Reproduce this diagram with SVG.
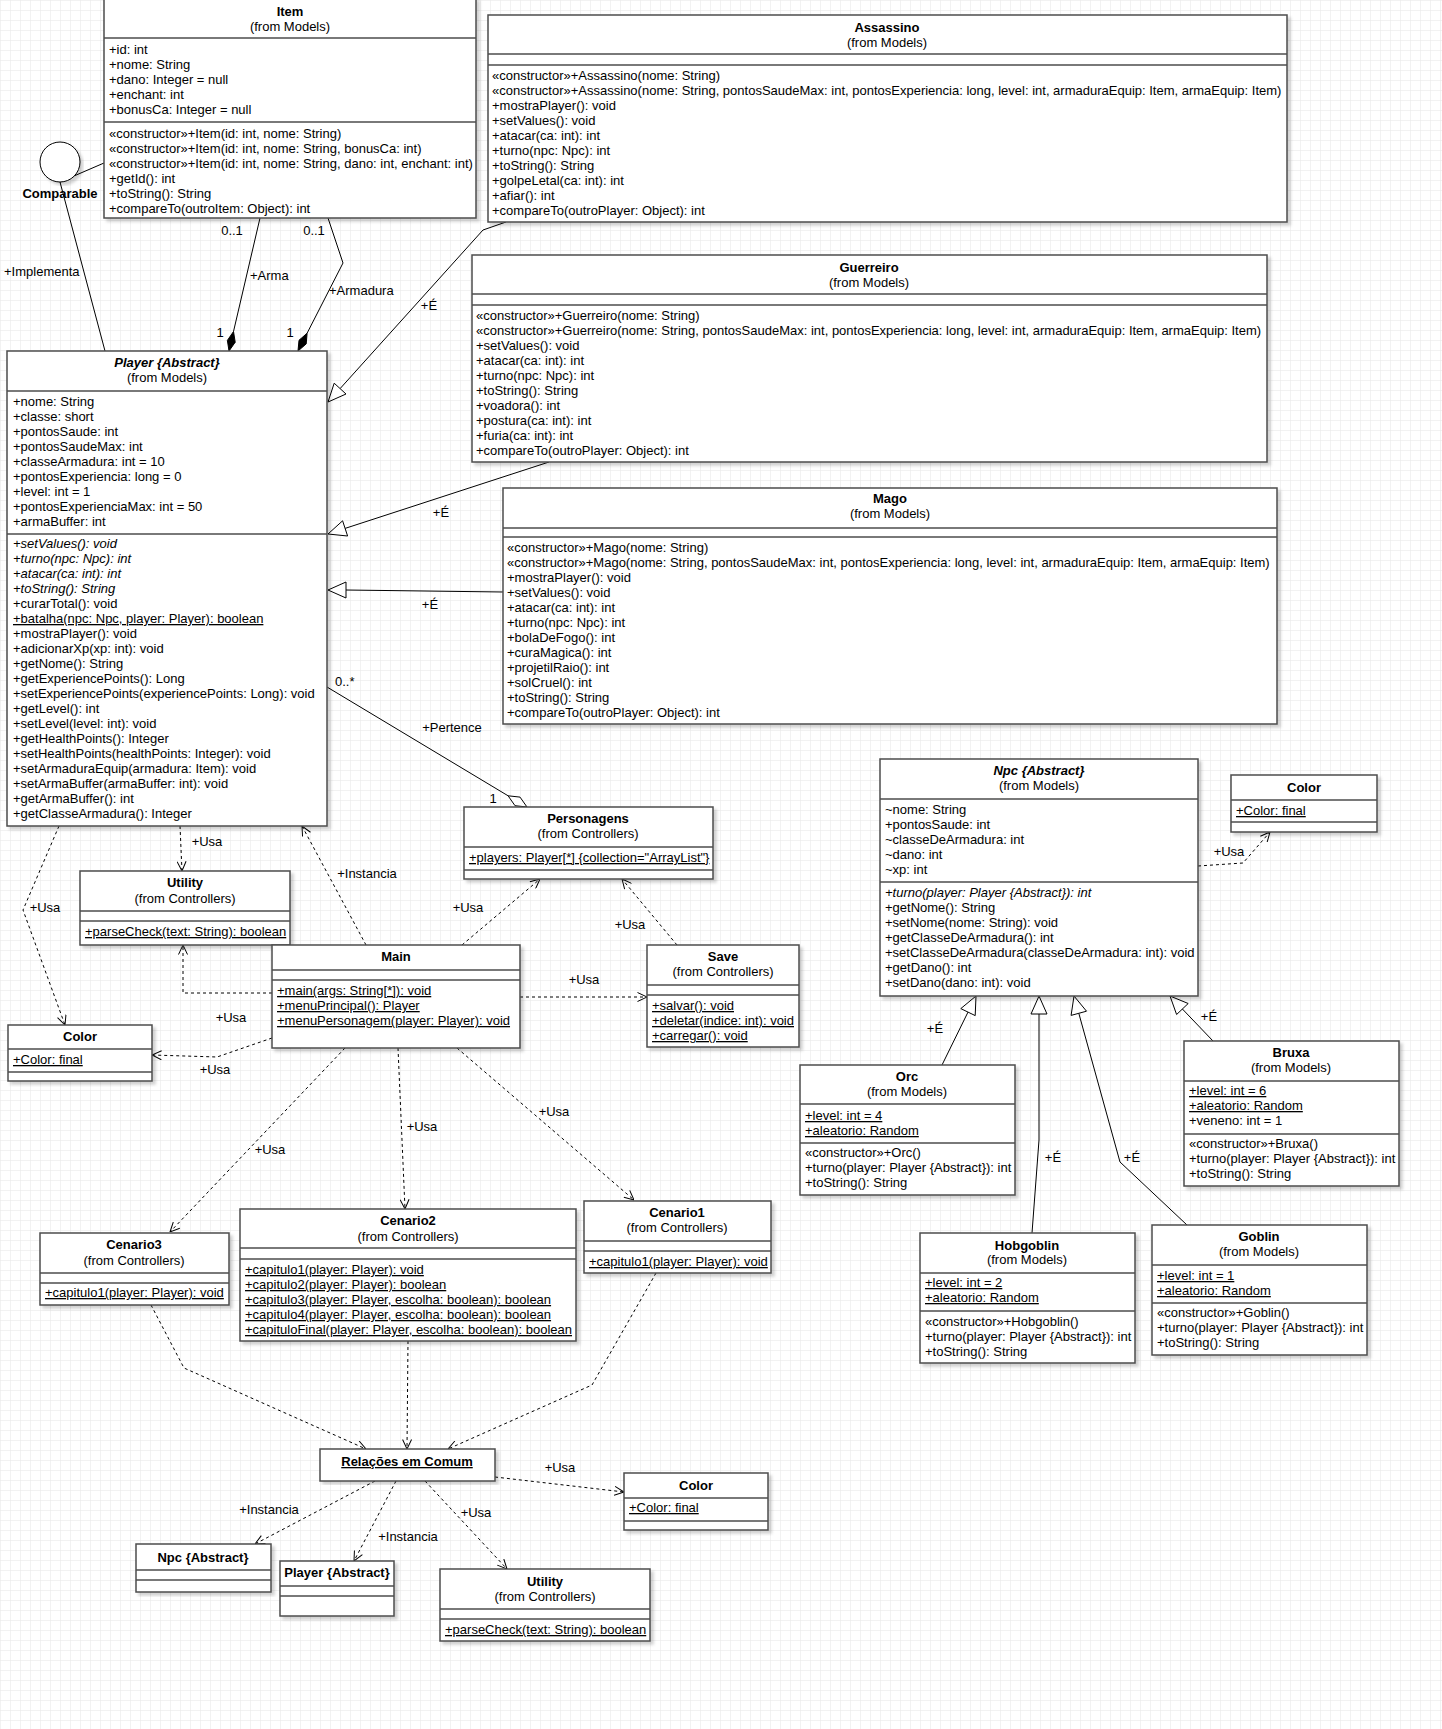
<svg xmlns="http://www.w3.org/2000/svg" width="1442" height="1729" viewBox="0 0 1442 1729">
<defs>
<style>
text{font-family:"Liberation Sans",Arial,sans-serif;font-size:13px;fill:#000}
.t{font-weight:bold;text-anchor:middle}
.c{text-anchor:middle}
.i{font-style:italic}
.bi{font-weight:bold;font-style:italic;text-anchor:middle}
.u{text-decoration:underline}
.b{fill:#fff;stroke:#4d4d4d;stroke-width:1.5}
.s{fill:none;stroke:#4d4d4d;stroke-width:1.5}
.l{fill:none;stroke:#000;stroke-width:1}
.d{fill:none;stroke:#000;stroke-width:1;stroke-dasharray:3 3;marker-end:url(#oa)}
.tri{fill:#fff;stroke:#000;stroke-width:1}
.dia{fill:#000;stroke:#000;stroke-width:1}
.hd{fill:#fff;stroke:#000;stroke-width:1}
</style>
<pattern id="grid" width="10" height="10" patternUnits="userSpaceOnUse"><path d="M10,0 L0,0 0,10" fill="none" stroke="#e6e6e6" stroke-width="1"/></pattern>
<marker id="oa" viewBox="0 0 10 10" refX="10" refY="5" markerWidth="10" markerHeight="10" markerUnits="userSpaceOnUse" orient="auto"><path d="M0.5,0.5 L10,5 L0.5,9.5" fill="none" stroke="#000" stroke-width="1"/></marker>
<filter id="sh" x="-5%" y="-5%" width="115%" height="115%"><feDropShadow dx="3" dy="3" stdDeviation="1.5" flood-color="#000" flood-opacity="0.18"/></filter>
</defs>
<rect width="1442" height="1729" fill="#fff"/>
<rect width="1442" height="1729" fill="url(#grid)"/>

<g id="connectors">
<path class="l" d="M60,182 L104,163"/>
<path class="l" d="M60,182 L105,351"/>
<text x="4" y="276">+Implementa</text>
<path class="l" d="M260,218 L233.5,331.5"/>
<polygon class="dia" points="229,351 235.2,342.2 233.5,331.5 227.4,340.4"/>
<path class="l" d="M328,218 L343,263 L307.1,333.2"/>
<polygon class="dia" points="298,351 306.2,343.9 307.1,333.2 299,340.3"/>
<text class="c" x="232" y="235">0..1</text>
<text class="c" x="314" y="235">0..1</text>
<text x="250" y="280">+Arma</text>
<text x="329" y="295">+Armadura</text>
<text class="c" x="220" y="337">1</text>
<text class="c" x="290" y="337">1</text>
<path class="l" d="M506,222 L483,230 L340.1,388.6"/>
<polygon class="tri" points="328,402 346,394 334.2,383.2"/>
<text class="c" x="429" y="310">+É</text>
<path class="l" d="M549,462 L345.1,528.4"/>
<polygon class="tri" points="328,534 347.6,536 342.6,520.8"/>
<text class="c" x="441" y="517">+É</text>
<path class="l" d="M503,592 L346,590"/>
<polygon class="tri" points="328,590 346,582 346,598"/>
<text class="c" x="430" y="609">+É</text>
<path class="l" d="M327,687 L508.1,795.8"/>
<polygon class="hd" points="508.1,795.8 520,797.1 527,807 515,805.7"/>
<text x="335" y="686">0..*</text>
<text class="c" x="452" y="732">+Pertence</text>
<text class="c" x="493" y="803">1</text>

<path class="d" d="M180,826 L182,871"/>
<text class="c" x="207" y="846">+Usa</text>
<path class="d" d="M59,826 L23,910 L65,1025"/>
<text class="c" x="45" y="912">+Usa</text>
<path class="d" d="M366,945 L302,826"/>
<text class="c" x="367" y="878">+Instancia</text>
<path class="d" d="M272,993 L183,993 L183,945"/>
<text class="c" x="231" y="1022">+Usa</text>
<path class="d" d="M272,1038 L217,1057 L152,1055"/>
<text class="c" x="215" y="1074">+Usa</text>
<path class="d" d="M462,945 L540,879"/>
<text class="c" x="468" y="912">+Usa</text>
<path class="d" d="M677,945 L622,879"/>
<text class="c" x="630" y="929">+Usa</text>
<path class="d" d="M520,997 L647,997"/>
<text class="c" x="584" y="984">+Usa</text>
<path class="d" d="M345,1048 L170,1232"/>
<text class="c" x="270" y="1154">+Usa</text>
<path class="d" d="M398,1048 L405,1209"/>
<text class="c" x="422" y="1131">+Usa</text>
<path class="d" d="M457,1048 L634,1200"/>
<text class="c" x="554" y="1116">+Usa</text>
<path class="d" d="M151,1305 L184,1368 L366,1449"/>
<path class="d" d="M408,1341 L407,1449"/>
<path class="d" d="M656,1273 L592,1385 L448,1449"/>
<path class="d" d="M375,1481 L255,1544"/>
<text class="c" x="269" y="1514">+Instancia</text>
<path class="d" d="M396,1481 L354,1561"/>
<text class="c" x="408" y="1541">+Instancia</text>
<path class="d" d="M425,1481 L507,1569"/>
<text class="c" x="476" y="1517">+Usa</text>
<path class="d" d="M495,1477 L624,1492"/>
<text class="c" x="560" y="1472">+Usa</text>
<path class="d" d="M1198,866 L1243,863 L1270,832"/>
<text class="c" x="1229" y="856">+Usa</text>

<path class="l" d="M942,1065 L968,1012.1"/>
<polygon class="tri" points="976,996 975.2,1015.6 960.8,1008.6"/>
<text class="c" x="935" y="1033">+É</text>
<path class="l" d="M1032,1233 L1039,1140 L1039,1014"/>
<polygon class="tri" points="1039,996 1047,1014 1031,1014"/>
<text class="c" x="1053" y="1162">+É</text>
<path class="l" d="M1187,1225 L1120,1162 L1078.8,1013.3"/>
<polygon class="tri" points="1074,996 1086.5,1011.2 1071.1,1015.4"/>
<text class="c" x="1132" y="1162">+É</text>
<path class="l" d="M1213,1041 L1182.4,1009"/>
<polygon class="tri" points="1170,996 1188.2,1003.5 1176.6,1014.5"/>
<text class="c" x="1209" y="1021">+É</text>
</g>

<g id="comparable">
<circle cx="60" cy="162" r="20" fill="#fff" stroke="#000" stroke-width="1" filter="url(#sh)"/>
<text class="t" x="60" y="198">Comparable</text>
</g>

<g id="item">
<rect class="b" x="104" y="-2" width="372" height="220" filter="url(#sh)"/>
<path class="s" d="M104,38 H476 M104,122 H476"/>
<text class="t" x="290" y="16">Item</text>
<text class="c" x="290" y="31">(from Models)</text>
<text x="109" y="54">+id: int</text>
<text x="109" y="69">+nome: String</text>
<text x="109" y="84">+dano: Integer = null</text>
<text x="109" y="99">+enchant: int</text>
<text x="109" y="114">+bonusCa: Integer = null</text>
<text x="109" y="138">«constructor»+Item(id: int, nome: String)</text>
<text x="109" y="153">«constructor»+Item(id: int, nome: String, bonusCa: int)</text>
<text x="109" y="168">«constructor»+Item(id: int, nome: String, dano: int, enchant: int)</text>
<text x="109" y="183">+getId(): int</text>
<text x="109" y="198">+toString(): String</text>
<text x="109" y="213">+compareTo(outroItem: Object): int</text>
</g>

<g id="assassino">
<rect class="b" x="488" y="15" width="799" height="207" filter="url(#sh)"/>
<path class="s" d="M488,54 H1287 M488,65 H1287"/>
<text class="t" x="887" y="32">Assassino</text>
<text class="c" x="887" y="47">(from Models)</text>
<text x="492" y="80">«constructor»+Assassino(nome: String)</text>
<text x="492" y="95">«constructor»+Assassino(nome: String, pontosSaudeMax: int, pontosExperiencia: long, level: int, armaduraEquip: Item, armaEquip: Item)</text>
<text x="492" y="110">+mostraPlayer(): void</text>
<text x="492" y="125">+setValues(): void</text>
<text x="492" y="140">+atacar(ca: int): int</text>
<text x="492" y="155">+turno(npc: Npc): int</text>
<text x="492" y="170">+toString(): String</text>
<text x="492" y="185">+golpeLetal(ca: int): int</text>
<text x="492" y="200">+afiar(): int</text>
<text x="492" y="215">+compareTo(outroPlayer: Object): int</text>
</g>

<g id="guerreiro">
<rect class="b" x="472" y="255" width="795" height="207" filter="url(#sh)"/>
<path class="s" d="M472,294 H1267 M472,305 H1267"/>
<text class="t" x="869" y="272">Guerreiro</text>
<text class="c" x="869" y="287">(from Models)</text>
<text x="476" y="320">«constructor»+Guerreiro(nome: String)</text>
<text x="476" y="335">«constructor»+Guerreiro(nome: String, pontosSaudeMax: int, pontosExperiencia: long, level: int, armaduraEquip: Item, armaEquip: Item)</text>
<text x="476" y="350">+setValues(): void</text>
<text x="476" y="365">+atacar(ca: int): int</text>
<text x="476" y="380">+turno(npc: Npc): int</text>
<text x="476" y="395">+toString(): String</text>
<text x="476" y="410">+voadora(): int</text>
<text x="476" y="425">+postura(ca: int): int</text>
<text x="476" y="440">+furia(ca: int): int</text>
<text x="476" y="455">+compareTo(outroPlayer: Object): int</text>
</g>

<g id="mago">
<rect class="b" x="503" y="488" width="774" height="236" filter="url(#sh)"/>
<path class="s" d="M503,528 H1277 M503,537 H1277"/>
<text class="t" x="890" y="503">Mago</text>
<text class="c" x="890" y="518">(from Models)</text>
<text x="507" y="552">«constructor»+Mago(nome: String)</text>
<text x="507" y="567">«constructor»+Mago(nome: String, pontosSaudeMax: int, pontosExperiencia: long, level: int, armaduraEquip: Item, armaEquip: Item)</text>
<text x="507" y="582">+mostraPlayer(): void</text>
<text x="507" y="597">+setValues(): void</text>
<text x="507" y="612">+atacar(ca: int): int</text>
<text x="507" y="627">+turno(npc: Npc): int</text>
<text x="507" y="642">+bolaDeFogo(): int</text>
<text x="507" y="657">+curaMagica(): int</text>
<text x="507" y="672">+projetilRaio(): int</text>
<text x="507" y="687">+solCruel(): int</text>
<text x="507" y="702">+toString(): String</text>
<text x="507" y="717">+compareTo(outroPlayer: Object): int</text>
</g>

<g id="player">
<rect class="b" x="7" y="351" width="320" height="475" filter="url(#sh)"/>
<path class="s" d="M7,391 H327 M7,534 H327"/>
<text class="bi" x="167" y="367">Player {Abstract}</text>
<text class="c" x="167" y="382">(from Models)</text>
<text x="13" y="406">+nome: String</text>
<text x="13" y="421">+classe: short</text>
<text x="13" y="436">+pontosSaude: int</text>
<text x="13" y="451">+pontosSaudeMax: int</text>
<text x="13" y="466">+classeArmadura: int = 10</text>
<text x="13" y="481">+pontosExperiencia: long = 0</text>
<text x="13" y="496">+level: int = 1</text>
<text x="13" y="511">+pontosExperienciaMax: int = 50</text>
<text x="13" y="526">+armaBuffer: int</text>
<text class="i" x="13" y="548">+setValues(): void</text>
<text class="i" x="13" y="563">+turno(npc: Npc): int</text>
<text class="i" x="13" y="578">+atacar(ca: int): int</text>
<text class="i" x="13" y="593">+toString(): String</text>
<text x="13" y="608">+curarTotal(): void</text>
<text class="u" x="13" y="623">+batalha(npc: Npc, player: Player): boolean</text>
<text x="13" y="638">+mostraPlayer(): void</text>
<text x="13" y="653">+adicionarXp(xp: int): void</text>
<text x="13" y="668">+getNome(): String</text>
<text x="13" y="683">+getExperiencePoints(): Long</text>
<text x="13" y="698">+setExperiencePoints(experiencePoints: Long): void</text>
<text x="13" y="713">+getLevel(): int</text>
<text x="13" y="728">+setLevel(level: int): void</text>
<text x="13" y="743">+getHealthPoints(): Integer</text>
<text x="13" y="758">+setHealthPoints(healthPoints: Integer): void</text>
<text x="13" y="773">+setArmaduraEquip(armadura: Item): void</text>
<text x="13" y="788">+setArmaBuffer(armaBuffer: int): void</text>
<text x="13" y="803">+getArmaBuffer(): int</text>
<text x="13" y="818">+getClasseArmadura(): Integer</text>
</g>

<g id="npc">
<rect class="b" x="880" y="759" width="318" height="237" filter="url(#sh)"/>
<path class="s" d="M880,799 H1198 M880,882 H1198"/>
<text class="bi" x="1039" y="775">Npc {Abstract}</text>
<text class="c" x="1039" y="790">(from Models)</text>
<text x="885" y="814">~nome: String</text>
<text x="885" y="829">+pontosSaude: int</text>
<text x="885" y="844">~classeDeArmadura: int</text>
<text x="885" y="859">~dano: int</text>
<text x="885" y="874">~xp: int</text>
<text class="i" x="885" y="897">+turno(player: Player {Abstract}): int</text>
<text x="885" y="912">+getNome(): String</text>
<text x="885" y="927">+setNome(nome: String): void</text>
<text x="885" y="942">+getClasseDeArmadura(): int</text>
<text x="885" y="957">+setClasseDeArmadura(classeDeArmadura: int): void</text>
<text x="885" y="972">+getDano(): int</text>
<text x="885" y="987">+setDano(dano: int): void</text>
</g>

<g id="color-npc">
<rect class="b" x="1231" y="775" width="146" height="57" filter="url(#sh)"/>
<path class="s" d="M1231,800 H1377 M1231,822 H1377"/>
<text class="t" x="1304" y="792">Color</text>
<text class="u" x="1236" y="815">+Color: final</text>
</g>

<g id="orc">
<rect class="b" x="800" y="1065" width="215" height="130" filter="url(#sh)"/>
<path class="s" d="M800,1104 H1015 M800,1143 H1015"/>
<text class="t" x="907" y="1081">Orc</text>
<text class="c" x="907" y="1096">(from Models)</text>
<text class="u" x="805" y="1120">+level: int = 4</text>
<text class="u" x="805" y="1135">+aleatorio: Random</text>
<text x="805" y="1157">«constructor»+Orc()</text>
<text x="805" y="1172">+turno(player: Player {Abstract}): int</text>
<text x="805" y="1187">+toString(): String</text>
</g>

<g id="bruxa">
<rect class="b" x="1184" y="1041" width="215" height="145" filter="url(#sh)"/>
<path class="s" d="M1184,1081 H1399 M1184,1134 H1399"/>
<text class="t" x="1291" y="1057">Bruxa</text>
<text class="c" x="1291" y="1072">(from Models)</text>
<text class="u" x="1189" y="1095">+level: int = 6</text>
<text class="u" x="1189" y="1110">+aleatorio: Random</text>
<text x="1189" y="1125">+veneno: int = 1</text>
<text x="1189" y="1148">«constructor»+Bruxa()</text>
<text x="1189" y="1163">+turno(player: Player {Abstract}): int</text>
<text x="1189" y="1178">+toString(): String</text>
</g>

<g id="hobgoblin">
<rect class="b" x="920" y="1233" width="215" height="130" filter="url(#sh)"/>
<path class="s" d="M920,1273 H1135 M920,1311 H1135"/>
<text class="t" x="1027" y="1250">Hobgoblin</text>
<text class="c" x="1027" y="1264">(from Models)</text>
<text class="u" x="925" y="1287">+level: int = 2</text>
<text class="u" x="925" y="1302">+aleatorio: Random</text>
<text x="925" y="1326">«constructor»+Hobgoblin()</text>
<text x="925" y="1341">+turno(player: Player {Abstract}): int</text>
<text x="925" y="1356">+toString(): String</text>
</g>

<g id="goblin">
<rect class="b" x="1152" y="1225" width="215" height="130" filter="url(#sh)"/>
<path class="s" d="M1152,1265 H1367 M1152,1303 H1367"/>
<text class="t" x="1259" y="1241">Goblin</text>
<text class="c" x="1259" y="1256">(from Models)</text>
<text class="u" x="1157" y="1280">+level: int = 1</text>
<text class="u" x="1157" y="1295">+aleatorio: Random</text>
<text x="1157" y="1317">«constructor»+Goblin()</text>
<text x="1157" y="1332">+turno(player: Player {Abstract}): int</text>
<text x="1157" y="1347">+toString(): String</text>
</g>

<g id="utility">
<rect class="b" x="80" y="871" width="210" height="74" filter="url(#sh)"/>
<path class="s" d="M80,911 H290 M80,921 H290"/>
<text class="t" x="185" y="887">Utility</text>
<text class="c" x="185" y="903">(from Controllers)</text>
<text class="u" x="85" y="936">+parseCheck(text: String): boolean</text>
</g>

<g id="main">
<rect class="b" x="272" y="945" width="248" height="103" filter="url(#sh)"/>
<path class="s" d="M272,970 H520 M272,980 H520"/>
<text class="t" x="396" y="961">Main</text>
<text class="u" x="277" y="995">+main(args: String[*]): void</text>
<text class="u" x="277" y="1010">+menuPrincipal(): Player</text>
<text class="u" x="277" y="1025">+menuPersonagem(player: Player): void</text>
</g>

<g id="color-main">
<rect class="b" x="8" y="1025" width="144" height="56" filter="url(#sh)"/>
<path class="s" d="M8,1049 H152 M8,1072 H152"/>
<text class="t" x="80" y="1041">Color</text>
<text class="u" x="13" y="1064">+Color: final</text>
</g>

<g id="personagens">
<rect class="b" x="464" y="807" width="249" height="72" filter="url(#sh)"/>
<path class="s" d="M464,847 H713 M464,870 H713"/>
<text class="t" x="588" y="823">Personagens</text>
<text class="c" x="588" y="838">(from Controllers)</text>
<text class="u" x="469" y="862">+players: Player[*] {collection="ArrayList"}</text>
</g>

<g id="save">
<rect class="b" x="647" y="945" width="152" height="102" filter="url(#sh)"/>
<path class="s" d="M647,985 H799 M647,995 H799"/>
<text class="t" x="723" y="961">Save</text>
<text class="c" x="723" y="976">(from Controllers)</text>
<text class="u" x="652" y="1010">+salvar(): void</text>
<text class="u" x="652" y="1025">+deletar(indice: int): void</text>
<text class="u" x="652" y="1040">+carregar(): void</text>
</g>

<g id="cenario3">
<rect class="b" x="40" y="1233" width="189" height="72" filter="url(#sh)"/>
<path class="s" d="M40,1273 H229 M40,1283 H229"/>
<text class="t" x="134" y="1249">Cenario3</text>
<text class="c" x="134" y="1265">(from Controllers)</text>
<text class="u" x="45" y="1297">+capitulo1(player: Player): void</text>
</g>

<g id="cenario2">
<rect class="b" x="240" y="1209" width="336" height="132" filter="url(#sh)"/>
<path class="s" d="M240,1248 H576 M240,1259 H576"/>
<text class="t" x="408" y="1225">Cenario2</text>
<text class="c" x="408" y="1241">(from Controllers)</text>
<text class="u" x="245" y="1274">+capitulo1(player: Player): void</text>
<text class="u" x="245" y="1289">+capitulo2(player: Player): boolean</text>
<text class="u" x="245" y="1304">+capitulo3(player: Player, escolha: boolean): boolean</text>
<text class="u" x="245" y="1319">+capitulo4(player: Player, escolha: boolean): boolean</text>
<text class="u" x="245" y="1334">+capituloFinal(player: Player, escolha: boolean): boolean</text>
</g>

<g id="cenario1">
<rect class="b" x="584" y="1201" width="187" height="72" filter="url(#sh)"/>
<path class="s" d="M584,1241 H771 M584,1251 H771"/>
<text class="t" x="677" y="1217">Cenario1</text>
<text class="c" x="677" y="1232">(from Controllers)</text>
<text class="u" x="589" y="1266">+capitulo1(player: Player): void</text>
</g>

<g id="relacoes">
<rect class="b" x="320" y="1449" width="175" height="32" filter="url(#sh)"/>
<text class="t u" x="407" y="1466">Relações em Comum</text>
</g>

<g id="npc-small">
<rect class="b" x="136" y="1544" width="135" height="48" filter="url(#sh)"/>
<path class="s" d="M136,1570 H271 M136,1580 H271"/>
<text class="t" x="203" y="1562">Npc {Abstract}</text>
</g>

<g id="player-small">
<rect class="b" x="280" y="1561" width="114" height="55" filter="url(#sh)"/>
<path class="s" d="M280,1586 H394 M280,1596 H394"/>
<text class="t" x="337" y="1577">Player {Abstract}</text>
</g>

<g id="utility-bottom">
<rect class="b" x="440" y="1569" width="210" height="72" filter="url(#sh)"/>
<path class="s" d="M440,1609 H650 M440,1619 H650"/>
<text class="t" x="545" y="1586">Utility</text>
<text class="c" x="545" y="1601">(from Controllers)</text>
<text class="u" x="445" y="1634">+parseCheck(text: String): boolean</text>
</g>

<g id="color-bottom">
<rect class="b" x="624" y="1473" width="144" height="57" filter="url(#sh)"/>
<path class="s" d="M624,1498 H768 M624,1521 H768"/>
<text class="t" x="696" y="1490">Color</text>
<text class="u" x="629" y="1512">+Color: final</text>
</g>
</svg>
